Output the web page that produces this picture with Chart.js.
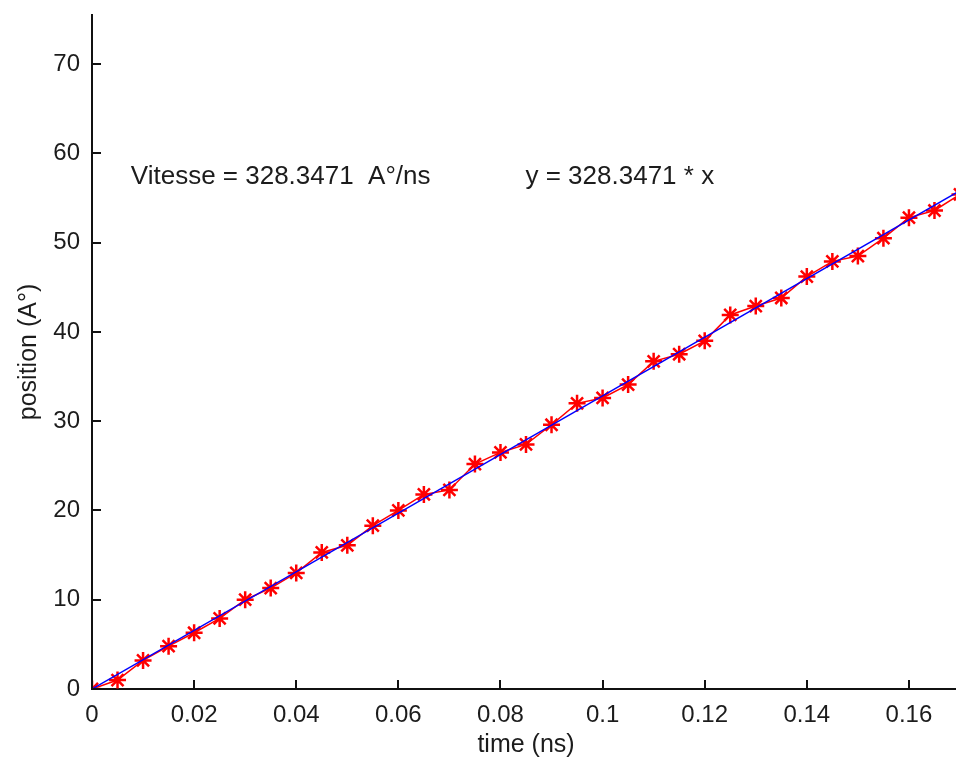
<!DOCTYPE html>
<html lang="fr">
<head>
  <meta charset="UTF-8">
  <title>position vs time</title>
  <script src="https://cdn.jsdelivr.net/npm/chart.js"></script>
  <style>
    html, body {
      margin: 0;
      padding: 0;
      background: #fff;
      overflow: hidden;
    }
    .wrap {
      width: 960px;
      height: 760px;
    }
  </style>
</head>
<body>
<div class="wrap">
  <canvas id="chart" width="960" height="760"></canvas>
</div>

<script>
  // measured points (time in ns, position in A°)
  const times = [0, 0.005, 0.01, 0.015, 0.02, 0.025, 0.03, 0.035, 0.04, 0.045,
                 0.05, 0.055, 0.06, 0.065, 0.07, 0.075, 0.08, 0.085, 0.09, 0.095,
                 0.1, 0.105, 0.11, 0.115, 0.12, 0.125, 0.13, 0.135, 0.14, 0.145,
                 0.15, 0.155, 0.16, 0.165, 0.17];
  const positions = [0, 1.0, 3.2, 4.8, 6.3, 7.9, 10.0, 11.3, 13.0, 15.3,
                     16.1, 18.3, 20.0, 21.8, 22.3, 25.2, 26.5, 27.4, 29.6, 32.0,
                     32.6, 34.1, 36.7, 37.5, 39.0, 41.9, 42.9, 43.8, 46.2, 47.9,
                     48.5, 50.5, 52.8, 53.6, 55.4];

  // linear fit y = 328.3471 * x, end points
  const fitTimes = [0, 0.17];
  const fitPositions = [0, 55.82];

  const xTicks = [0, 0.02, 0.04, 0.06, 0.08, 0.1, 0.12, 0.14, 0.16];
  const yTicks = [0, 10, 20, 30, 40, 50, 60, 70];

  const notes = ['Vitesse = 328.3471  A°/ns', 'y = 328.3471 * x'];
  const noteX = [0.0076, 0.0849];
  const noteY = [57.4, 57.4];

  const FONT = "'Liberation Sans', Arial, sans-serif";
  const INK = '#1c1c1c';

  // MATLAB style ticks pointing into the plot, plus the two text labels
  const extras = {
    id: 'extras',
    afterDatasetsDraw(chart) {
      const ctx = chart.ctx;
      const xs = chart.scales.x, ys = chart.scales.y;
      const area = chart.chartArea;
      ctx.save();
      ctx.strokeStyle = '#111';
      ctx.lineWidth = 2;
      ctx.beginPath();
      xTicks.forEach(v => {
        const px = Math.round(xs.getPixelForValue(v));
        ctx.moveTo(px, area.bottom);
        ctx.lineTo(px, area.bottom - 9);
      });
      yTicks.forEach(v => {
        const py = Math.round(ys.getPixelForValue(v));
        ctx.moveTo(area.left, py);
        ctx.lineTo(area.left + 9, py);
      });
      ctx.stroke();

      ctx.fillStyle = INK;
      ctx.font = '26px ' + FONT;
      ctx.textBaseline = 'middle';
      ctx.textAlign = 'left';
      notes.forEach((t, i) => {
        ctx.fillText(t, xs.getPixelForValue(noteX[i]), ys.getPixelForValue(noteY[i]));
      });
      ctx.restore();
    }
  };

  const ctx = document.getElementById('chart').getContext('2d');
  new Chart(ctx, {
    type: 'scatter',
    data: {
      datasets: [
        {
          label: 'fit',
          data: fitTimes.map((t, i) => ({ x: t, y: fitPositions[i] })),
          showLine: true,
          borderColor: '#0000ff',
          borderWidth: 1.5,
          pointRadius: 0,
          order: 0
        },
        {
          label: 'mesure',
          data: times.map((t, i) => ({ x: t, y: positions[i] })),
          showLine: true,
          borderColor: '#ff0000',
          backgroundColor: '#ff0000',
          borderWidth: 1.5,
          pointStyle: 'star',
          pointRadius: 8.5,
          pointBorderWidth: 2.5,
          order: 1
        }
      ]
    },
    options: {
      responsive: false,
      animation: false,
      layout: { autoPadding: false, padding: { top: 15, right: 0, left: 0, bottom: 0 } },
      plugins: {
        legend: { display: false },
        tooltip: { enabled: false }
      },
      scales: {
        x: {
          type: 'linear',
          min: 0,
          max: 0.17,
          afterBuildTicks: s => { s.ticks = xTicks.map(v => ({ value: v })); },
          afterFit: s => { s.height = 71; s.paddingLeft = 0; s.paddingRight = 0; },
          grid: { display: false, drawTicks: false },
          border: { display: true, color: '#111', width: 2 },
          ticks: {
            color: INK,
            padding: 12,
            maxRotation: 0,
            autoSkip: false,
            font: { family: FONT, size: 24 },
            callback: v => String(+v.toFixed(4))
          },
          title: {
            display: true,
            text: 'time (ns)',
            color: INK,
            padding: { top: 0, bottom: 0 },
            font: { family: FONT, size: 25 }
          }
        },
        y: {
          min: 0,
          max: 75.5,
          afterBuildTicks: s => { s.ticks = yTicks.map(v => ({ value: v })); },
          afterFit: s => { s.width = 92; s.paddingTop = 0; s.paddingBottom = 0; },
          grid: { display: false, drawTicks: false },
          border: { display: true, color: '#111', width: 2 },
          ticks: {
            color: INK,
            padding: 12,
            autoSkip: false,
            font: { family: FONT, size: 24 }
          },
          title: {
            display: true,
            text: 'position (A°)',
            color: INK,
            padding: { top: 14, bottom: 0 },
            font: { family: FONT, size: 25 }
          }
        }
      }
    },
    plugins: [extras]
  });
</script>
</body>
</html>
